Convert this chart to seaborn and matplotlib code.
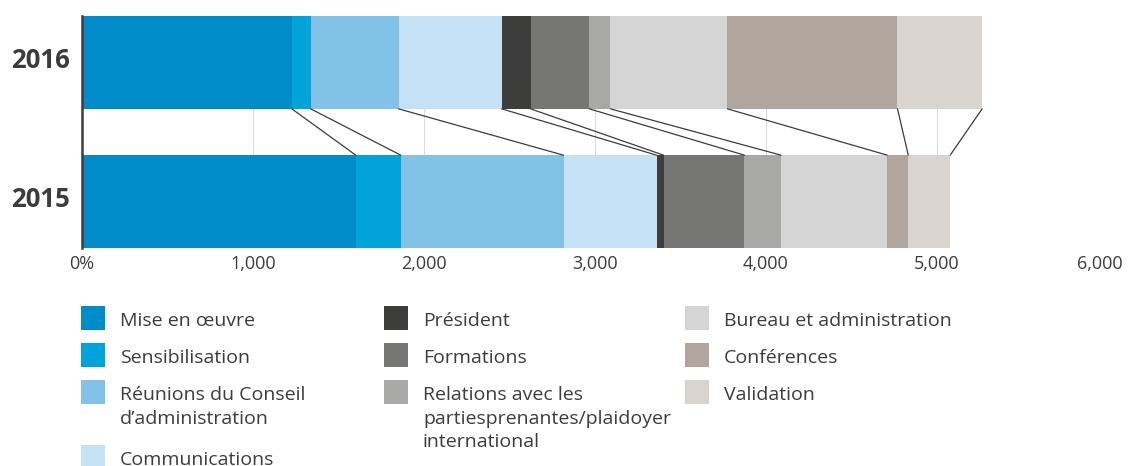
import matplotlib
matplotlib.use('Agg')
import matplotlib.pyplot as plt
from matplotlib.patches import Rectangle
from matplotlib.transforms import ScaledTranslation
import seaborn as sns
import pandas as pd
import numpy as np

# Data
years = ['2016', '2015']
categories = ['Mise en œuvre', 'Sensibilisation', 'Réunions du Conseil d’administration',
              'Communications', 'Président', 'Formations',
              'Relations avec les partiesprenantes/plaidoyer international',
              'Bureau et administration', 'Conférences', 'Validation']
legend_labels = ['Mise en œuvre', 'Sensibilisation', 'Réunions du Conseil\nd’administration',
                 'Communications', 'Président', 'Formations',
                 'Relations avec les\npartiesprenantes/plaidoyer\ninternational',
                 'Bureau et administration', 'Conférences', 'Validation']
colors = ['#008bc9', '#00a3da', '#82c2e7', '#c5e1f5', '#3d3d3b',
          '#767674', '#a8a8a6', '#d5d5d5', '#b0a69d', '#d9d4ce']
values_2016 = [1227, 110, 514, 603, 169, 344, 123, 684, 995, 495]
values_2015 = [1601, 263, 952, 544, 41, 473, 214, 621, 123, 245]
tick_values = [0, 1000, 2000, 3000, 4000, 5000, 6000]
tick_labels = ['0%', '1,000', '2,000', '3,000', '4,000', '5,000', '6,000']

W, H = 1128, 466
def fx(px):
    return px / W
def fy(py):
    return 1 - py / H

# long table with cumulative sums so overlapping bars look stacked
rows = []
for year, vals in zip(years, [values_2016, values_2015]):
    cum = np.cumsum(vals)
    for cat, v, c in zip(categories, vals, cum):
        rows.append({'year': year, 'category': cat, 'value': v, 'cum': c})
df = pd.DataFrame(rows)

sns.set_theme(style='white')
plt.rcParams['font.family'] = ['Open Sans', 'DejaVu Sans']
text_color = '#3c3c3c'

fig = plt.figure(figsize=(W / 100, H / 100), dpi=100)
ax = fig.add_axes([fx(82), fy(248), fx(1108) - fx(82), fy(16) - fy(248)])

bar_w = 0.667
palette = dict(zip(categories, colors))
sns.barplot(data=df, x='cum', y='year', hue='category', hue_order=categories[::-1],
            order=years, palette=palette, dodge=False, width=bar_w, orient='h',
            saturation=1, linewidth=0, legend=False, ax=ax, zorder=3)

# connector lines between matching segment edges
cum16 = df[df.year == '2016']['cum'].values
cum15 = df[df.year == '2015']['cum'].values
for a, b in zip(cum16, cum15):
    ax.plot([a, b], [bar_w / 2, 1 - bar_w / 2], color=text_color, lw=0.9, zorder=4)

ax.set_xlim(0, 6000)
ax.set_ylim(1 + bar_w / 2, -bar_w / 2)
ax.set_xticks(tick_values)
ax.set_xticklabels(tick_labels)
ax.set_xlabel('')
ax.set_ylabel('')
ax.grid(axis='x', color='#dcdcdc', lw=0.8)
ax.grid(axis='y', visible=False)
ax.set_axisbelow(True)
for s in ['top', 'right', 'bottom']:
    ax.spines[s].set_visible(False)
ax.spines['left'].set_color(text_color)
ax.spines['left'].set_linewidth(1.8)
ax.spines['left'].set_zorder(5)
ax.tick_params(axis='x', length=0, pad=5, labelsize=13, labelcolor=text_color)
ax.tick_params(axis='y', length=0, pad=9, labelsize=18.5, labelcolor=text_color)
for t in ax.get_yticklabels():
    t.set_fontweight('bold')
    t.set_transform(t.get_transform() + ScaledTranslation(0, 0.05, fig.dpi_scale_trans))
# last tick label sits a little left so it fits in the figure
last = ax.get_xticklabels()[-1]
last.set_transform(last.get_transform() + ScaledTranslation(-0.08, 0, fig.dpi_scale_trans))

# legend drawn as three fixed columns
col_x = [81, 384, 685]
col_items = [[0, 1, 2, 3], [4, 5, 6], [7, 8, 9]]
sq = 24
for cx, items in zip(col_x, col_items):
    top = 306
    for i in items:
        fig.patches.append(Rectangle((fx(cx), fy(top + sq)), sq / W, sq / H,
                                     transform=fig.transFigure, facecolor=colors[i],
                                     edgecolor='none'))
        lines = legend_labels[i].split('\n')
        for k, line in enumerate(lines):
            fig.text(fx(cx + 39), fy(top + 20 + 23.5 * k), line, fontsize=14,
                     color=text_color, va='baseline', ha='left')
        top += 37 + 28 * (len(lines) - 1)

fig.savefig('out.png', dpi=100)
